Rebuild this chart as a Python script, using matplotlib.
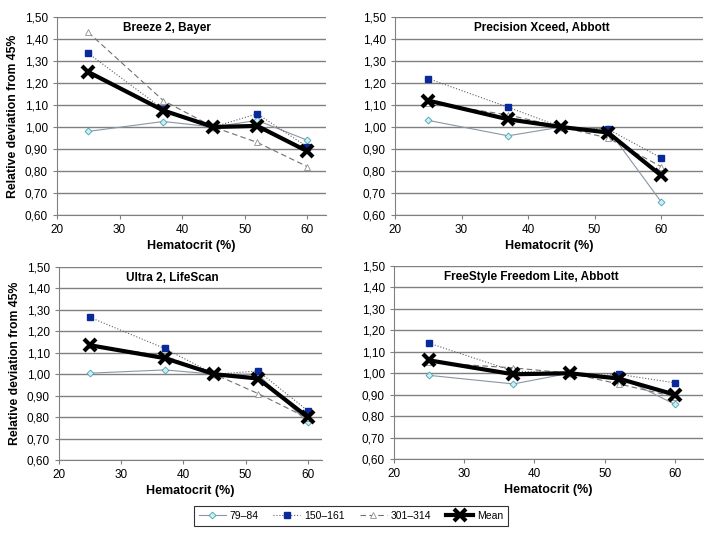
import numpy as np
import matplotlib.pyplot as plt

plt.rcParams['font.family'] = ['Liberation Sans', 'DejaVu Sans']

hct = [25, 37, 45, 52, 60]
titles = ['Breeze 2, Bayer', 'Precision Xceed, Abbott',
          'Ultra 2, LifeScan', 'FreeStyle Freedom Lite, Abbott']

# relative deviation from 45% per meter
g79 = [[0.98, 1.025, 1.00, 1.03, 0.94],
       [1.03, 0.96, 1.00, 0.99, 0.66],
       [1.005, 1.02, 1.00, 1.00, 0.775],
       [0.99, 0.95, 1.00, 0.985, 0.855]]
g150 = [[1.335, 1.08, 1.00, 1.06, 0.91],
        [1.22, 1.09, 1.00, 0.99, 0.86],
        [1.265, 1.12, 1.00, 1.015, 0.83],
        [1.14, 1.01, 1.00, 0.995, 0.955]]
g301 = [[1.43, 1.12, 1.00, 0.93, 0.82],
        [1.11, 1.055, 1.00, 0.95, 0.82],
        [1.135, 1.085, 1.00, 0.91, 0.795],
        [1.05, 1.025, 1.00, 0.95, 0.89]]
mean = [[1.25, 1.075, 1.00, 1.005, 0.89],
        [1.12, 1.035, 1.00, 0.975, 0.78],
        [1.135, 1.075, 1.00, 0.98, 0.80],
        [1.06, 0.995, 1.00, 0.975, 0.90]]

fig = plt.figure(figsize=(7.19, 5.34), dpi=100)

# axes boxes in pixels: left, right, top, bottom
boxes = [(57, 326, 17, 215), (395, 703, 17, 215),
         (59, 322, 267, 460), (394, 703, 266, 459)]
xmax = [63, 66.3, 62.3, 64]
title_x = [37.5, 42, 38.2, 39.5]
W, H = 719, 534

for i in range(4):
    l, r, t, b = boxes[i]
    ax = fig.add_axes([l / W, 1 - b / H, (r - l) / W, (b - t) / H])
    ax.set_xlim(20, xmax[i])
    ax.set_ylim(0.6, 1.5)
    ax.set_yticks(np.arange(0.6, 1.501, 0.1))
    ax.set_yticklabels([('%.2f' % v).replace('.', ',') for v in np.arange(0.6, 1.501, 0.1)])
    ax.set_xticks([20, 30, 40, 50, 60])
    ax.yaxis.grid(True, color='#808080', lw=1)
    ax.set_axisbelow(True)
    for s in ['top', 'right']:
        ax.spines[s].set_visible(False)
    for s in ['left', 'bottom']:
        ax.spines[s].set_color('#808080')
    ax.tick_params(labelsize=8.5, color='#808080', length=3)

    ax.plot(hct, g79[i], color='#8a96a6', lw=0.8, marker='D', ms=3.5,
            mfc='#c8f0f4', mec='#4aa0b0', mew=0.6, label='79\u201384')
    ax.plot(hct, g150[i], color='#606060', lw=0.8, ls=':', marker='s', ms=5,
            mfc='#0a2a9a', mec='#0a2a9a', label='150\u2013161')
    ax.plot(hct, g301[i], color='#707070', lw=0.8, ls=(0, (5, 3)), marker='^', ms=4,
            mfc='white', mec='#909090', mew=0.6, label='301\u2013314')
    ax.plot(hct, mean[i], color='black', lw=3, marker='x', ms=9, mew=3,
            mfc='black', mec='black', label='Mean')

    ax.text(title_x[i], 1.45, titles[i], ha='center', va='center',
            fontsize=8.5, fontweight='bold')
    ax.set_xlabel('Hematocrit (%)', fontsize=9, fontweight='bold', labelpad=3)
    if i in (0, 2):
        ax.set_ylabel('Relative deviation from 45%', fontsize=8.8, fontweight='bold')
    if i == 0:
        handles, labels = ax.get_legend_handles_labels()

leg = fig.legend(handles, labels, loc='center', ncol=4,
                 bbox_to_anchor=(351 / W, 1 - 516 / H), fontsize=7.5,
                 frameon=True, fancybox=False, edgecolor='black',
                 handlelength=2.6, columnspacing=1.4, handletextpad=0.4,
                 borderpad=0.45)
leg.get_frame().set_linewidth(0.8)

fig.savefig('out.png', dpi=100)
